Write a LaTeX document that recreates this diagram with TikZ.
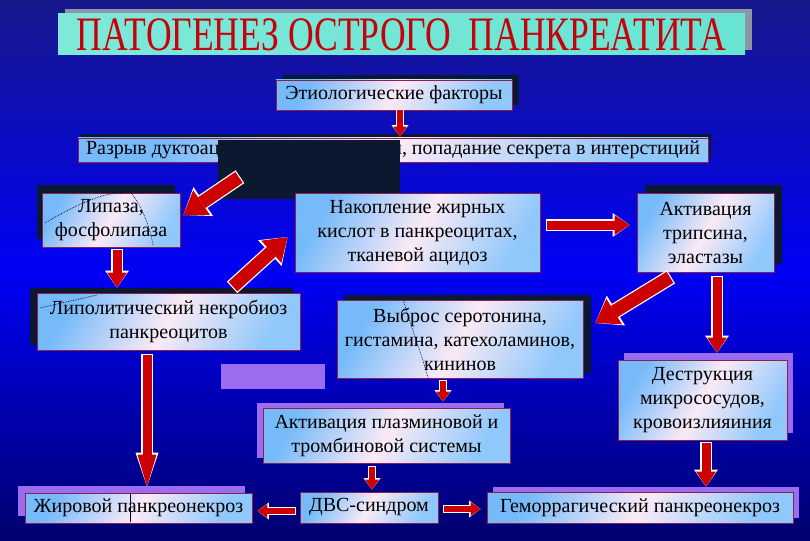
\documentclass[tikz,border=0pt]{standalone}
\usepackage{fontspec}
\setmainfont{Liberation Serif}
\newfontfamily\titlefont[FakeStretch=0.74]{Liberation Serif}
\usetikzlibrary{arrows.meta}
\usetikzlibrary{shadows}

\definecolor{bgtop}{RGB}{24,24,140}
\definecolor{bgmid}{RGB}{0,0,245}
\definecolor{bgbot}{RGB}{0,0,110}
\definecolor{boxblue}{RGB}{118,186,250}
\definecolor{boxpink}{RGB}{250,234,246}
\definecolor{boxline}{RGB}{140,30,80}
\definecolor{shadedark}{RGB}{10,24,48}
\definecolor{lilac}{RGB}{154,108,240}
\definecolor{arrowred}{RGB}{204,0,0}
\definecolor{titlecyan}{RGB}{104,228,210}
\definecolor{titlered}{RGB}{200,0,10}
\definecolor{titleshade}{RGB}{140,150,165}

\tikzset{
  box/.style={draw=boxline,line width=0.8pt,top color=boxblue,bottom color=boxblue!80!white,
    middle color=boxpink,shading angle=60,align=center,inner sep=2pt,text=black,
    font=\rmfamily\fontsize{20}{24}\selectfont},
  titlebox/.style={left color=titlecyan!85!white,right color=titlecyan,text=titlered,
    general shadow={fill=titleshade,shadow xshift=7pt,shadow yshift=5pt},
    font=\titlefont\fontsize{48}{50}\selectfont},
  darkshade/.style 2 args={general shadow={fill=shadedark,shadow xshift=#1,shadow yshift=#2}},
  lilacshade/.style 2 args={general shadow={fill=lilac,shadow xshift=#1,shadow yshift=#2}},
  bigarrow/.style={draw=arrowred,line width=13pt,-{Triangle[width=30pt,length=22pt,line width=0pt]},
    preaction={draw=white,line width=15.5pt,shorten <=-1.2pt,-{Triangle[width=35pt,length=24pt,line width=0pt]}}},
  midarrow/.style={draw=arrowred,line width=9pt,-{Triangle[width=20pt,length=15pt,line width=0pt]},
    preaction={draw=white,line width=11.5pt,shorten <=-1.2pt,-{Triangle[width=24pt,length=17pt,line width=0pt]}}},
  longarrow/.style={draw=arrowred,line width=9pt,-{Triangle[width=19pt,length=32pt,line width=0pt]},
    preaction={draw=white,line width=11.5pt,shorten <=-1.2pt,-{Triangle[width=23pt,length=34pt,line width=0pt]}}},
  smallarrow/.style={draw=arrowred,line width=6pt,-{Triangle[width=14pt,length=10pt,line width=0pt]},
    preaction={draw=white,line width=8pt,shorten <=-1pt,-{Triangle[width=17pt,length=11.5pt,line width=0pt]}}},
  patch/.style={fill=shadedark},
  scribble/.style={densely dotted,line width=0.7pt,draw=black!80!blue}
}

\begin{document}
\begin{tikzpicture}[x=1pt,y=-1pt]
\shade[top color=bgtop,bottom color=bgbot,middle color=bgmid] (0,0) rectangle (810,540);
\useasboundingbox (0,0) rectangle (810,540);

\node[titlebox,minimum width=687pt,minimum height=41pt] (title) at (401.5,34.5) {ПАТОГЕНЕЗ ОСТРОГО\ \ ПАНКРЕАТИТА};

\node[box,darkshade={7pt}{5pt},minimum width=236pt,minimum height=30pt] (etio) at (394,95) {Этиологические факторы};
\node[box,darkshade={3pt}{4pt},minimum width=630pt,minimum height=24pt] (rupture) at (393,150) {Разрыв дуктоацинарного соединения, попадание секрета в интерстиций};
\node[box,darkshade={-5pt}{8pt},minimum width=138pt,minimum height=54pt] (lipase) at (111,220) {Липаза,\\фосфолипаза};
\node[box,darkshade={-7pt}{5pt},minimum width=263pt,minimum height=57pt] (lipolytic) at (168.5,321.5) {Липолитический некробиоз\\панкреоцитов};
\fill[patch] (218,140) rectangle (400,199);
\node[box,minimum width=245pt,minimum height=79pt] (accum) at (417.5,232.5) {Накопление жирных\\кислот в панкреоцитах,\\тканевой ацидоз};
\node[box,darkshade={8pt}{8pt},minimum width=137pt,minimum height=79pt] (trypsin) at (705.5,232.5) {Активация\\трипсина,\\эластазы};
\node[box,darkshade={8pt}{5pt},minimum width=246pt,minimum height=78pt] (release) at (460,339) {Выброс серотонина,\\гистамина, катехоламинов,\\кининов};
\fill[lilac] (221,364) rectangle (325,389);
\node[box,lilacshade={6pt}{7pt},minimum width=169pt,minimum height=80pt] (destruction) at (702.5,400) {Деструкция\\микрососудов,\\кровоизлияиния};
\node[box,lilacshade={-6pt}{5pt},minimum width=247pt,minimum height=55pt] (plasmin) at (386.5,435.5) {Активация плазминовой и\\тромбиновой системы};
\node[box,lilacshade={-7pt}{7pt},minimum width=227pt,minimum height=30pt] (fat) at (138.5,508) {Жировой панкреонекроз};
\node[box,minimum width=138pt,minimum height=31pt] (dic) at (369,507.5) {ДВС-синдром};
\node[box,lilacshade={6pt}{5pt},minimum width=306pt,minimum height=31pt] (hemorr) at (640,507.5) {Геморрагический панкреонекроз};

\draw[scribble] (45,223) .. controls (75,205) and (105,192) .. (122,193);
\draw[scribble] (130,192) .. controls (142,205) and (150,228) .. (153,245);
\draw[scribble] (40,308) -- (97,295);
\draw[scribble] (403,299) .. controls (412,330) and (422,355) .. (428,378);
\draw[line width=0.5pt,draw=black!80!blue] (130,494) -- (130,522);

\draw[smallarrow] ([xshift=6pt]etio.south) -- ([xshift=7pt,yshift=1pt]rupture.north);
\draw[bigarrow] ([xshift=-154pt,yshift=-15pt]rupture.south) -- ([xshift=3pt,yshift=5pt]lipase.east);
\draw[midarrow] ([xshift=6pt,yshift=-3pt]lipase.south) -- ([xshift=-51.5pt,yshift=5pt]lipolytic.north);
\draw[bigarrow] ([xshift=64.5pt,yshift=6pt]lipolytic.north) -- ([xshift=-7pt,yshift=-4.5pt]accum.west);
\draw[midarrow] ([xshift=7pt,yshift=7.5pt]accum.east) -- ([xshift=-7pt,yshift=7.5pt]trypsin.west);
\draw[bigarrow] ([xshift=-35.5pt,yshift=-5pt]trypsin.south) -- ([xshift=12pt,yshift=16pt]release.east);
\draw[midarrow] ([xshift=11.5pt,yshift=-5pt]trypsin.south) -- ([xshift=14.5pt,yshift=7pt]destruction.north);
\draw[smallarrow] ([xshift=-17pt,yshift=-3pt]release.south) -- ([xshift=56.5pt,yshift=6pt]plasmin.north);
\draw[smallarrow] ([xshift=-14.5pt,yshift=-4pt]plasmin.south) -- ([xshift=3pt,yshift=2pt]dic.north);
\draw[longarrow] ([xshift=-21.5pt,yshift=-5pt]lipolytic.south) -- ([xshift=8.5pt,yshift=6pt]fat.north);
\draw[smallarrow] ([xshift=-5pt,yshift=-3.5pt]dic.west) -- ([xshift=5pt,yshift=-3pt]fat.east);
\draw[smallarrow] ([xshift=6pt,yshift=-1.5pt]dic.east) -- ([xshift=-6pt,yshift=-1.5pt]hemorr.west);
\draw[midarrow] ([xshift=3.5pt,yshift=-3pt]destruction.south) -- ([xshift=66pt,yshift=5pt]hemorr.north);
\end{tikzpicture}
\end{document}
